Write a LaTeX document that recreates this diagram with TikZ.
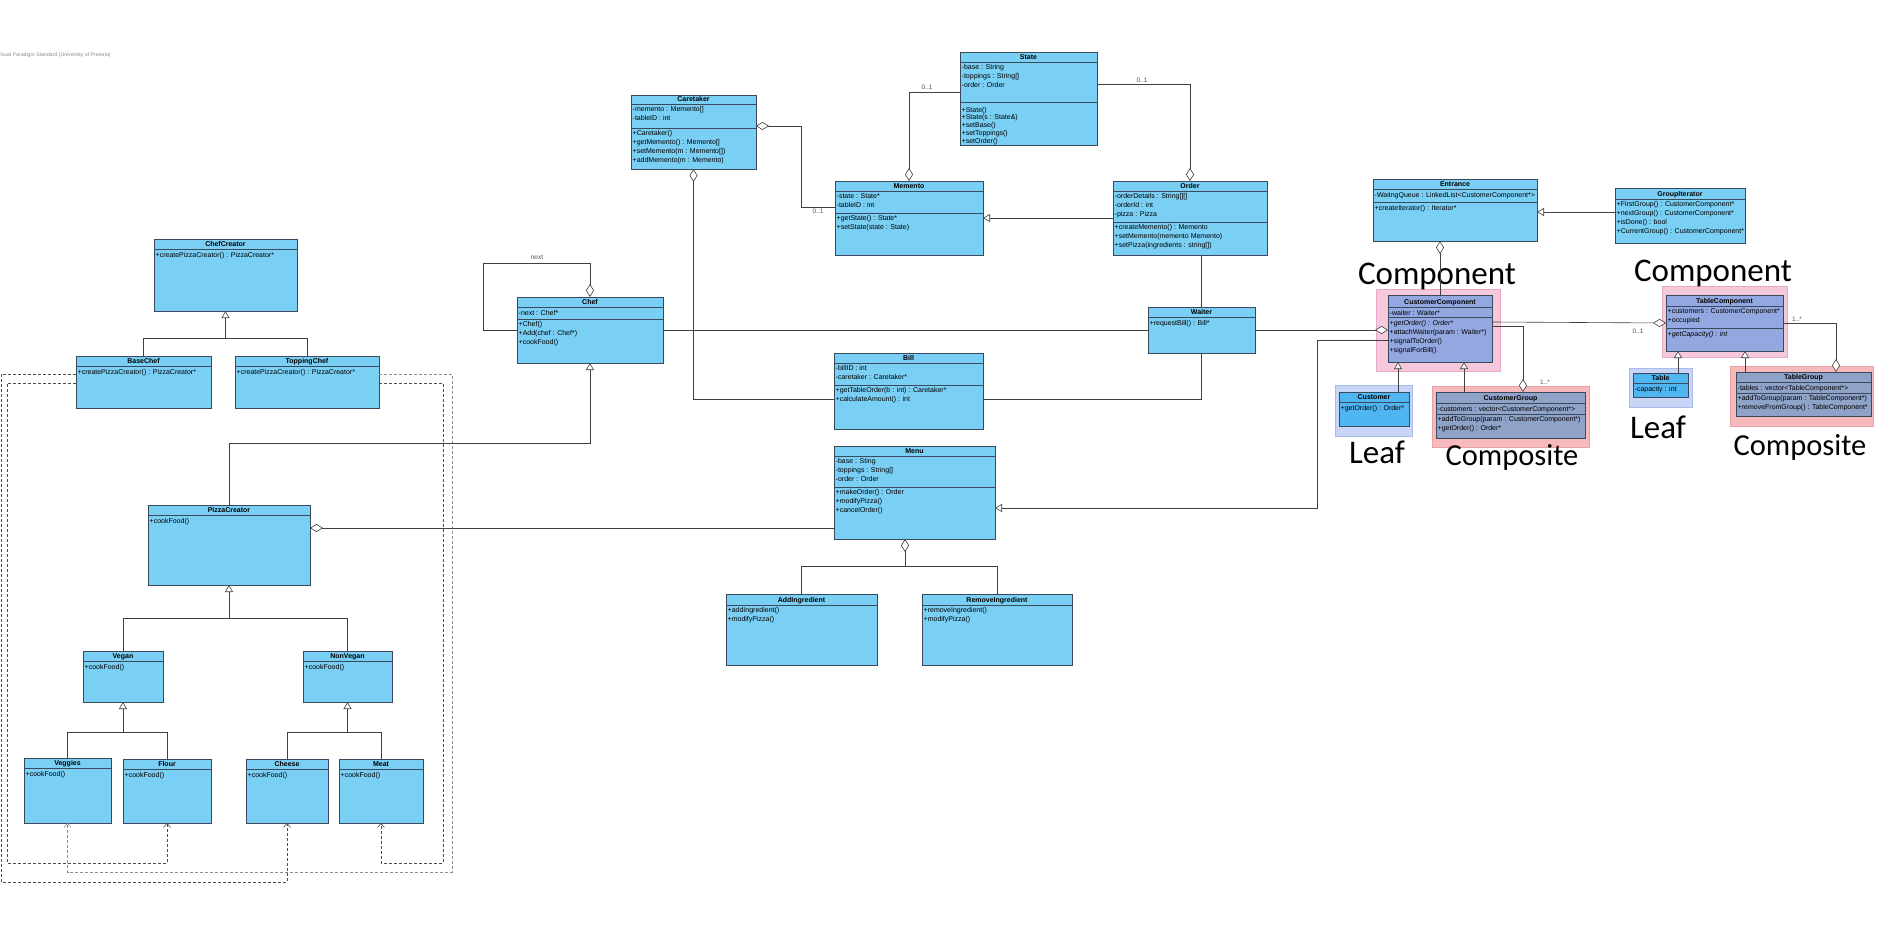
\documentclass[tikz,border=0pt]{standalone}
\usepackage{fontspec}
\setmainfont{Liberation Sans}
\newfontfamily\bigfont{Carlito}
\usetikzlibrary{arrows.meta,fit,calc}
\definecolor{clsfill}{HTML}{7ACFF5}
\definecolor{clsline}{HTML}{3A4A5C}
\definecolor{ccfill}{HTML}{93A8E0}
\definecolor{cgfill}{HTML}{8FA2C8}
\definecolor{leaffill}{HTML}{4FB6F2}
\definecolor{pinkbg}{HTML}{F6C8DC}
\definecolor{pinkbd}{HTML}{E6A9C6}
\definecolor{salmonbg}{HTML}{F6B9BC}
\definecolor{salmonbd}{HTML}{E8A0A4}
\definecolor{leafbg}{HTML}{C9D5F7}
\definecolor{leafbd}{HTML}{A8BBEA}
\definecolor{conncol}{HTML}{404040}
\definecolor{multcol}{HTML}{555555}

\newcommand\cls[8]{%
  \node[clsbox, fill=#7, fit={(#2,#3)(#4,#5)}] (#1) {};
  \draw[clsbord] (#2,#6) -- (#4,#6);
  \node[clstitle] (#1-title) at ({(#2+#4)/2},{#6-2.5}) {#8};
}
\newcommand\sepl[3]{\draw[clsbord] (#1,#3) -- (#2,#3);}
\newcommand\txt[5][]{\node[clstext,#1] (#2) at ({#3+1.5},{#4+2}) {#5};}

\begin{document}
\begin{tikzpicture}[x=1pt,y=-1pt,
  clsbox/.style={draw=clsline, line width=0.7pt, inner sep=0pt, outer sep=0pt, rectangle},
  clsbord/.style={draw=clsline, line width=0.6pt},
  clstitle/.style={font=\fontsize{7}{9}\selectfont\bfseries, anchor=base, inner sep=0pt},
  clstext/.style={font=\fontsize{7}{9}\selectfont, anchor=north west, align=left, inner sep=0pt, execute at begin node=\strut},
  bgpink/.style={draw=pinkbd, fill=pinkbg, line width=0.8pt, inner sep=0pt, outer sep=0pt},
  bgsalmon/.style={draw=salmonbd, fill=salmonbg, line width=0.8pt, inner sep=0pt, outer sep=0pt},
  bgleaf/.style={draw=leafbd, fill=leafbg, line width=0.8pt, inner sep=0pt, outer sep=0pt},
  conn/.style={draw=conncol, line width=0.6pt},
  gen/.style={conn, -{Triangle[fill=white, length=7pt, width=8pt]}},
  aggS/.style={conn, {Diamond[fill=white, length=13pt, width=8pt]}-},
  aggE/.style={conn, -{Diamond[fill=white, length=13pt, width=8pt]}},
  dep/.style={draw=#1, line width=0.6pt, dash pattern=on 3pt off 2pt, -{Straight Barb[length=4pt, width=7pt]}},
  mult/.style={font=\fontsize{6.5}{8}\selectfont, text=multcol, inner sep=0pt},
  big/.style={font=\bigfont\fontsize{33}{36}\selectfont, anchor=base, inner sep=0pt},
  bigc/.style={font=\bigfont\fontsize{30.5}{34}\selectfont, anchor=base, inner sep=0pt}
]
\useasboundingbox[fill=white] (0,0) rectangle (1879,931);

\node[font=\fontsize{5.2}{6}\selectfont, text=black!45, anchor=west, inner sep=0pt] (wm) at (-3,55) {Visual Paradigm Standard (University of Pretoria)};

% pattern backgrounds
\node[bgpink, fit={(1376,289)(1500,371)}] (bgCC) {};
\node[bgleaf, fit={(1335,385)(1412,436)}] (bgCust) {};
\node[bgsalmon, fit={(1432,386)(1589,447)}] (bgCG) {};
\node[bgpink, fit={(1662,286)(1787,357)}] (bgTC) {};
\node[bgleaf, fit={(1629,368)(1692,407)}] (bgTable) {};
\node[bgsalmon, fit={(1730,366)(1873,426)}] (bgTG) {};

% classes
\cls{ChefCreator}{154}{239}{297}{311}{249}{clsfill}{ChefCreator}
\txt{ChefCreator-m}{154}{249}{+createPizzaCreator() : PizzaCreator*}
\cls{BaseChef}{76}{356}{211}{408}{366}{clsfill}{BaseChef}
\txt{BaseChef-m}{76}{366}{+createPizzaCreator() : PizzaCreator*}
\cls{ToppingChef}{235}{356}{379}{408}{366}{clsfill}{ToppingChef}
\txt{ToppingChef-m}{235}{366}{+createPizzaCreator() : PizzaCreator*}
\cls{PizzaCreator}{148}{505}{310}{585}{515}{clsfill}{PizzaCreator}
\txt{PizzaCreator-m}{148}{515}{+cookFood()}
\cls{Vegan}{83}{651}{163}{702}{661}{clsfill}{Vegan}
\txt{Vegan-m}{83}{661}{+cookFood()}
\cls{NonVegan}{303}{651}{392}{702}{661}{clsfill}{NonVegan}
\txt{NonVegan-m}{303}{661}{+cookFood()}
\cls{Veggies}{24}{758}{111}{823}{768}{clsfill}{Veggies}
\txt{Veggies-m}{24}{768}{+cookFood()}
\cls{Flour}{123}{759}{211}{823}{769}{clsfill}{Flour}
\txt{Flour-m}{123}{769}{+cookFood()}
\cls{Cheese}{246}{759}{328}{823}{769}{clsfill}{Cheese}
\txt{Cheese-m}{246}{769}{+cookFood()}
\cls{Meat}{339}{759}{423}{823}{769}{clsfill}{Meat}
\txt{Meat-m}{339}{769}{+cookFood()}

\cls{Chef}{517}{297}{663}{363}{307}{clsfill}{Chef}
\txt{Chef-a}{517}{307}{-next : Chef*}
\sepl{517}{663}{319}
\txt{Chef-m}{517}{319}{+Chef()\\+Add(chef : Chef*)\\+cookFood()}

\cls{Caretaker}{631}{95}{756}{169}{104}{clsfill}{Caretaker}
\txt{Caretaker-a}{631}{104}{-memento : Memento[]\\-tableID : int}
\sepl{631}{756}{128}
\txt{Caretaker-m}{631}{128}{+Caretaker()\\+getMemento() : Memento[]\\+setMemento(m : Memento[])\\+addMemento(m : Memento)}

\cls{State}{960}{52}{1097}{145}{62}{clsfill}{State}
\txt{State-a}{960}{62}{-base : String\\-toppings : String[]\\-order : Order}
\sepl{960}{1097}{102}
\txt[font=\fontsize{7}{7.7}\selectfont]{State-m}{960}{105}{+State()\\+State(s : State\&)\\+setBase()\\+setToppings()\\+setOrder()}

\cls{Memento}{835}{181}{983}{255}{191}{clsfill}{Memento}
\txt{Memento-a}{835}{191}{-state : State*\\-tableID : int}
\sepl{835}{983}{213}
\txt{Memento-m}{835}{213}{+getState() : State*\\+setState(state : State)}

\cls{Order}{1113}{181}{1267}{255}{191}{clsfill}{Order}
\txt{Order-a}{1113}{191}{-orderDetails : String[][]\\-orderId : int\\-pizza : Pizza}
\sepl{1113}{1267}{222}
\txt{Order-m}{1113}{222}{+createMemento() : Memento\\+setMemento(memento Memento)\\+setPizza(ingredients : string[])}

\cls{Waiter}{1148}{307}{1255}{353}{317}{clsfill}{Waiter}
\txt{Waiter-m}{1148}{317}{+requestBill() : Bill*}

\cls{Bill}{834}{353}{983}{429}{363}{clsfill}{Bill}
\txt{Bill-a}{834}{363}{-billID : int\\-caretaker : Caretaker*}
\sepl{834}{983}{385}
\txt{Bill-m}{834}{385}{+getTableOrder(b : int) : Caretaker*\\+calculateAmount() : int}

\cls{Menu}{834}{446}{995}{539}{456}{clsfill}{Menu}
\txt{Menu-a}{834}{456}{-base : Sting\\-toppings : String[]\\-order : Order}
\sepl{834}{995}{487}
\txt{Menu-m}{834}{487}{+makeOrder() : Order\\+modifyPizza()\\+cancelOrder()}

\cls{AddIngredient}{726}{594}{877}{665}{605}{clsfill}{AddIngredient}
\txt{AddIngredient-m}{726}{605}{+addIngredient()\\+modifyPizza()}
\cls{RemoveIngredient}{922}{594}{1072}{665}{605}{clsfill}{RemoveIngredient}
\txt{RemoveIngredient-m}{922}{605}{+removeIngredient()\\+modifyPizza()}

\cls{Entrance}{1373}{179}{1537}{241}{189}{clsfill}{Entrance}
\txt{Entrance-a}{1373}{189}{-WaitngQueue : LinkedList<CustomerComponent*>}
\sepl{1373}{1537}{202}
\txt{Entrance-m}{1373}{202}{+createIterator() : Iterator*}

\cls{GroupIterator}{1615}{188}{1745}{243}{199}{clsfill}{GroupIterator}
\txt{GroupIterator-m}{1615}{199}{+FirstGroup() : CustomerComponent*\\+nextGroup() : CustomerComponent*\\+isDone() : bool\\+CurrentGroup() : CustomerComponent*}

\cls{CustomerComponent}{1388}{295}{1492}{362}{307}{ccfill}{CustomerComponent}
\txt{CustomerComponent-a}{1388}{307}{-waiter : Waiter*}
\sepl{1388}{1492}{317}
\txt{CustomerComponent-m}{1388}{318}{\textit{+getOrder() : Order*}\\+attachWaiter(param : Waiter*)\\+signalToOrder()\\+signalForBill()}

\cls{Customer}{1339}{392}{1409}{426}{402}{leaffill}{Customer}
\txt{Customer-m}{1339}{402}{+getOrder() : Order*}

\cls{CustomerGroup}{1436}{392}{1585}{438}{403}{cgfill}{CustomerGroup}
\txt{CustomerGroup-a}{1436}{403}{-customers : vector<CustomerComponent*>}
\sepl{1436}{1585}{414}
\txt{CustomerGroup-m}{1436}{414}{+addToGroup(param : CustomerComponent*)\\+getOrder() : Order*}

\cls{TableComponent}{1666}{295}{1783}{351}{306}{ccfill}{TableComponent}
\txt{TableComponent-a}{1666}{306}{+customers : CustomerComponent*\\+occupied}
\sepl{1666}{1783}{328}
\txt{TableComponent-m}{1666}{328}{\textit{+getCapacity() : int}}

\cls{Table}{1633}{373}{1688}{397}{383}{leaffill}{Table}
\txt{Table-a}{1633}{383}{-capacity : int}

\cls{TableGroup}{1736}{372}{1871}{416}{382}{cgfill}{TableGroup}
\txt{TableGroup-a}{1736}{382}{-tables : vector<TableComponent*>}
\sepl{1736}{1871}{393}
\txt{TableGroup-m}{1736}{393}{+addToGroup(param : TableComponent*)\\+removeFromGroup() : TableComponent*}

% big pattern labels
\node[big] (lblCC) at (1437,284) {Component};
\node[big] (lblTC) at (1713,281) {Component};
\node[big] (lblLeaf1) at (1377,463) {Leaf};
\node[big] (lblLeaf2) at (1658,438) {Leaf};
\node[bigc] (lblComp1) at (1512,465) {Composite};
\node[bigc] (lblComp2) at (1800,455) {Composite};

% chef factory hierarchy
\draw[gen] (BaseChef.north) |- ([yshift=-27pt]ChefCreator.south) -- (ChefCreator.south);
\draw[conn] (ToppingChef.north) |- ([yshift=-27pt]ChefCreator.south);
\draw[gen] (Vegan.north) |- ([yshift=-33pt]PizzaCreator.south) -- (PizzaCreator.south);
\draw[conn] (NonVegan.north) |- ([yshift=-33pt]PizzaCreator.south);
\draw[gen] (Veggies.north) |- ([yshift=-30pt]Vegan.south) -- (Vegan.south);
\draw[conn] (Flour.north) |- ([yshift=-30pt]Vegan.south);
\draw[gen] (Cheese.north) |- ([yshift=-30pt]NonVegan.south) -- (NonVegan.south);
\draw[conn] (Meat.north) |- ([yshift=-30pt]NonVegan.south);

% dependencies
\draw[dep=black!70] ([yshift=-27pt]BaseChef.north west) -- (7,383) -- (7,863) -| (Flour.south);
\draw[dep=black!70] ([yshift=-18pt]BaseChef.north west) -- (1,374) -- (1,882) -| (Cheese.south);
\draw[dep=black!70] ([yshift=-27pt]ToppingChef.north east) -- (443,383) -- (443,863) -| (Meat.south);
\draw[dep=black!45] ([yshift=-18pt]ToppingChef.north east) -- (452,374) -- (452,872) -| (Veggies.south);

% chef chain
\draw[aggE] (Chef.west) -| (483,263) -| (Chef.north);
\node[mult] (lblnext) at (537,257) {next};
\draw[gen] (PizzaCreator.north) |- ([yshift=-80pt]Chef.south) -- (Chef.south);
\draw[aggS] ([yshift=-23pt]PizzaCreator.north east) -- ([yshift=-82pt]Menu.north west);
\draw[conn] (Chef.east) -- (Waiter.west);

% memento
\draw[aggE] ([yshift=-40pt]State.north west) -| (Memento.north);
\node[mult] (m1) at (927,87) {0..1};
\draw[aggE] ([yshift=-32pt]State.north east) -| (Order.north);
\node[mult] (m2) at (1142,80) {0..1};
\draw[aggS] ([yshift=-31pt]Caretaker.north east) -- ++(45,0) |- ([yshift=-26pt]Memento.north west);
\node[mult] (m3) at (818,211) {0..1};
\draw[aggS] (Caretaker.south) |- ([yshift=-46pt]Bill.north west);
\draw[conn] ([yshift=-46pt]Bill.north east) -| (Waiter.south);
\draw[gen] (Order.west) -- (Memento.east);
\draw[conn] (Order.south -| Waiter.north) -- (Waiter.north);

% menu decorators
\draw[aggS] ([xshift=-9.5pt]Menu.south) -- ++(0,27) -| (AddIngredient.north);
\draw[conn] ([xshift=-9.5pt]Menu.south) ++(0,27) -| (RemoveIngredient.north);

% customers / tables
\draw[aggE] (Waiter.east) -- (Waiter.east -| CustomerComponent.west);
\draw[gen] ([yshift=-45pt]CustomerComponent.north west) -- ++(-71,0) |- ([yshift=-62pt]Menu.north east);
\draw[aggS] (CustomerComponent.north |- Entrance.south) -- (CustomerComponent.north);
\draw[gen] ([yshift=-24pt]GroupIterator.north west) -- ([yshift=-33pt]Entrance.north east);
\draw[gen] ([xshift=24pt]Customer.north) -- ([xshift=-42pt]CustomerComponent.south);
\draw[gen] ([xshift=-46.5pt]CustomerGroup.north) -- ([xshift=24pt]CustomerComponent.south);
\draw[aggE] ([yshift=-31pt]CustomerComponent.north east) -| ([xshift=12.5pt]CustomerGroup.north);
\node[mult] (m4) at (1545,382) {1..*};
\draw[aggE] ([yshift=-27pt]CustomerComponent.north east) -- ([yshift=-28pt]TableComponent.north west);
\node[mult] (m5) at (1638,331) {0..1};
\draw[gen] ([xshift=17.5pt]Table.north) -- ([xshift=-46.5pt]TableComponent.south);
\draw[gen] ([xshift=-58.5pt]TableGroup.north) -- ([xshift=20.5pt]TableComponent.south);
\draw[aggE] ([yshift=-28pt]TableComponent.north east) -| ([xshift=32.5pt]TableGroup.north);
\node[mult] (m6) at (1797,319) {1..*};
\end{tikzpicture}
\end{document}
